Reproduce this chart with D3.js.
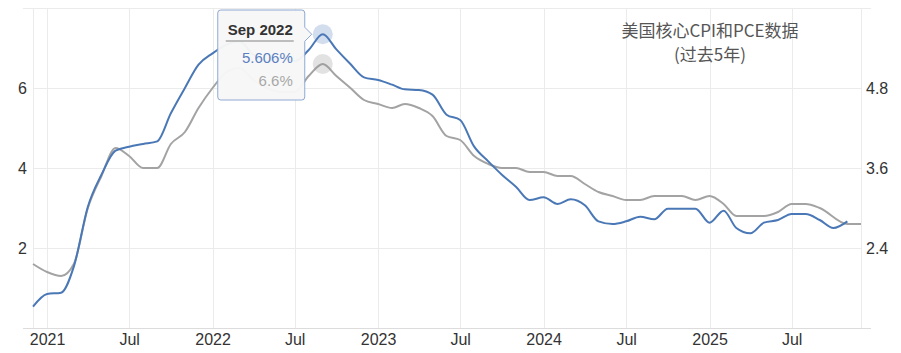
<!DOCTYPE html>
<html>
<head>
<meta charset="utf-8">
<script src="https://cdn.jsdelivr.net/npm/d3@7"></script>
<style>
  body { margin: 0; background: #fff; }
  text { font-family: "Liberation Sans", Arial, sans-serif; }
</style>
</head>
<body>
<div id="chart"></div>
<script>
// months, Dec 2020 .. Dec 2025
const months = [
    "2020-12",
    "2021-01", "2021-02", "2021-03", "2021-04", "2021-05", "2021-06", "2021-07", "2021-08", "2021-09", "2021-10", "2021-11", "2021-12",
    "2022-01", "2022-02", "2022-03", "2022-04", "2022-05", "2022-06", "2022-07", "2022-08", "2022-09", "2022-10", "2022-11", "2022-12",
    "2023-01", "2023-02", "2023-03", "2023-04", "2023-05", "2023-06", "2023-07", "2023-08", "2023-09", "2023-10", "2023-11", "2023-12",
    "2024-01", "2024-02", "2024-03", "2024-04", "2024-05", "2024-06", "2024-07", "2024-08", "2024-09", "2024-10", "2024-11", "2024-12",
    "2025-01", "2025-02", "2025-03", "2025-04", "2025-05", "2025-06", "2025-07", "2025-08", "2025-09", "2025-10", "2025-11", "2025-12"
];

// core CPI (grey, left axis)
const coreCPI = [
    1.6,
    1.4, 1.3, 1.6, 3.0, 3.8, 4.5, 4.3, 4.0, 4.0, 4.6, 4.9, 5.5,
    6.0, 6.4, 6.5, 6.2, 6.0, 5.9, 5.9, 6.3, 6.6, 6.3, 6.0, 5.7,
    5.6, 5.5, 5.6, 5.5, 5.3, 4.8, 4.7, 4.3, 4.1, 4.0, 4.0, 3.9,
    3.9, 3.8, 3.8, 3.6, 3.4, 3.3, 3.2, 3.2, 3.3, 3.3, 3.3, 3.2,
    3.3, 3.1, 2.8, 2.8, 2.8, 2.9, 3.1, 3.1, 3.0, null, 2.6, 2.6
];

// core PCE (blue, right axis)
const corePCE = [
    1.52,
    1.71, 1.73, 2.12, 3.02, 3.5, 3.86, 3.92, 3.96, 4.0, 4.42, 4.8, 5.15,
    5.32, 5.45, 5.5, 5.3, 5.2, 5.25, 5.2, 5.37, 5.606, 5.38, 5.16, 4.96,
    4.92, 4.85, 4.78, 4.77, 4.7, 4.4, 4.32, 3.92, 3.7, 3.5, 3.32, 3.12,
    3.16, 3.06, 3.13, 3.04, 2.8, 2.76, 2.8, 2.87, 2.83, 2.99, 2.99, 2.99,
    2.78, 2.96, 2.7, 2.62, 2.78, 2.82, 2.91, 2.91, 2.82, 2.7, 2.8, null
];

const leftTicks = [2, 4, 6];
const rightTicks = [2.4, 3.6, 4.8];
const tickDates = ["2021-01", "2021-07", "2022-01", "2022-07", "2023-01", "2023-07", "2024-01", "2024-07", "2025-01", "2025-07"];
const tickLabels = ["2021", "Jul", "2022", "Jul", "2023", "Jul", "2024", "Jul", "2025", "Jul"];

const titleLines = ["美国核心CPI和PCE数据", "(过去5年)"];
const hoverIndex = 21; // Sep 2022

const parse = d3.timeParse("%Y-%m");

var margin = { top: 8, right: 40, bottom: 25, left: 33 },
    width = 901 - margin.left - margin.right,
    height = 353 - margin.top - margin.bottom;

var svg = d3.select("#chart")
    .append("svg")
    .attr("width", width + margin.left + margin.right)
    .attr("height", height + margin.top + margin.bottom)
    .append("g")
    .attr("transform", "translate(" + margin.left + "," + margin.top + ")");

var x = d3.scaleTime()
    .domain([parse(months[0]), parse(months[months.length - 1])])
    .range([0, width]);
var yL = d3.scaleLinear().domain([0, 8]).range([height, 0]);
var yR = d3.scaleLinear().domain([1.2, 6.0]).range([height, 0]);

// grid
var grid = svg.append("g").attr("stroke", "#ebebeb").attr("stroke-width", 1);
[0, 2, 4, 6, 8].forEach(function (v) {
    var ext = (v === 0 || v === 8) ? 10 : 0;
    grid.append("line")
        .attr("x1", -ext).attr("x2", width + ext)
        .attr("y1", Math.round(yL(v)) + 0.5).attr("y2", Math.round(yL(v)) + 0.5);
});
grid.selectAll(".vgrid")
    .data(tickDates.map(parse).concat([x.domain()[0], x.domain()[1]]))
    .enter()
    .append("line")
    .attr("x1", function (d) { return Math.round(x(d)) + 0.5; })
    .attr("x2", function (d) { return Math.round(x(d)) + 0.5; })
    .attr("y1", 0).attr("y2", height);
svg.append("line")
    .attr("x1", -10).attr("x2", width + 10)
    .attr("y1", height + 0.5).attr("y2", height + 0.5)
    .attr("stroke", "#dcdcdc");

// x axis labels
svg.append("g")
    .attr("transform", "translate(0," + height + ")")
    .call(d3.axisBottom(x)
        .tickValues(tickDates.map(parse))
        .tickFormat(function (d, i) { return tickLabels[i]; })
        .tickSize(0)
        .tickPadding(6))
    .call(function (g) { g.select(".domain").remove(); })
    .selectAll("text")
    .attr("dy", "0.71em")
    .style("font-family", "'Liberation Sans', Arial, sans-serif")
    .style("font-size", "16px")
    .attr("fill", "#333");

// left axis
svg.append("g")
    .attr("transform", "translate(-6,0)")
    .call(d3.axisLeft(yL).tickValues(leftTicks).tickSize(0).tickPadding(0))
    .call(function (g) { g.select(".domain").remove(); })
    .selectAll("text")
    .style("font-family", "'Liberation Sans', Arial, sans-serif")
    .style("font-size", "16px")
    .attr("fill", "#333");

// right axis
svg.append("g")
    .attr("transform", "translate(" + (width + 5) + ",0)")
    .call(d3.axisRight(yR).tickValues(rightTicks).tickSize(0).tickPadding(0).tickFormat(d3.format(".1f")))
    .call(function (g) { g.select(".domain").remove(); })
    .selectAll("text")
    .style("font-family", "'Liberation Sans', Arial, sans-serif")
    .style("font-size", "16px")
    .attr("fill", "#333");

// lines
var cpiData = months.map(function (m, i) { return { date: parse(m), v: coreCPI[i] }; })
    .filter(function (d) { return d.v !== null; });
var pceData = months.map(function (m, i) { return { date: parse(m), v: corePCE[i] }; })
    .filter(function (d) { return d.v !== null; });

svg.append("path")
    .datum(cpiData)
    .attr("fill", "none")
    .attr("stroke", "#a3a3a3")
    .attr("stroke-width", 2)
    .attr("d", d3.line()
        .curve(d3.curveMonotoneX)
        .x(function (d) { return x(d.date); })
        .y(function (d) { return yL(d.v); }));

svg.append("path")
    .datum(pceData)
    .attr("fill", "none")
    .attr("stroke", "#4a78b6")
    .attr("stroke-width", 2)
    .attr("d", d3.line()
        .curve(d3.curveMonotoneX)
        .x(function (d) { return x(d.date); })
        .y(function (d) { return yR(d.v); }));

// hover markers
var hx = x(parse(months[hoverIndex]));
var hyB = yR(corePCE[hoverIndex]);
var hyG = yL(coreCPI[hoverIndex]);
svg.append("circle").attr("cx", hx).attr("cy", hyB).attr("r", 10)
    .attr("fill", "rgba(74,120,182,0.25)");
svg.append("circle").attr("cx", hx).attr("cy", hyG).attr("r", 10)
    .attr("fill", "rgba(150,150,150,0.28)");

// tooltip
var bx1 = hx - margin.left - 18 + margin.left, bx0 = bx1 - 87;
var by0 = 2, by1 = 92;
var tip = svg.append("g");
tip.append("path")
    .attr("d", "M" + (bx0 + 3) + "," + by0 +
        " H" + (bx1 - 3) + " Q" + bx1 + "," + by0 + " " + bx1 + "," + (by0 + 3) +
        " V" + (hyB - 7) + " L" + (hx - 11) + "," + hyB + " L" + bx1 + "," + (hyB + 7) +
        " V" + (by1 - 3) + " Q" + bx1 + "," + by1 + " " + (bx1 - 3) + "," + by1 +
        " H" + (bx0 + 3) + " Q" + bx0 + "," + by1 + " " + bx0 + "," + (by1 - 3) +
        " V" + (by0 + 3) + " Q" + bx0 + "," + by0 + " " + (bx0 + 3) + "," + by0 + " Z")
    .attr("fill", "rgba(247,247,247,0.96)")
    .attr("stroke", "#8ea8d2")
    .attr("stroke-width", 1);
var tx = bx1 - 12;
tip.append("text").attr("x", tx).attr("y", 27).attr("text-anchor", "end")
    .style("font-size", "15px").style("font-weight", "bold").attr("fill", "#333")
    .text(d3.timeFormat("%b %Y")(parse(months[hoverIndex])));
tip.append("line").attr("x1", tx - 67).attr("x2", tx + 1).attr("y1", 33).attr("y2", 33)
    .attr("stroke", "#aaa").attr("stroke-width", 1.5);
tip.append("text").attr("x", tx).attr("y", 55).attr("text-anchor", "end")
    .style("font-size", "15px").attr("fill", "#5b80bf")
    .text(corePCE[hoverIndex] + "%");
tip.append("text").attr("x", tx).attr("y", 78).attr("text-anchor", "end")
    .style("font-size", "15px").attr("fill", "#a8a8a8")
    .text(coreCPI[hoverIndex] + "%");

// title
svg.append("g").selectAll("text")
    .data(titleLines)
    .enter()
    .append("text")
    .attr("x", 677)
    .attr("y", function (d, i) { return 29 + i * 24; })
    .attr("text-anchor", "middle")
    .style("font-family", "'Noto Sans CJK SC', sans-serif")
    .style("font-size", "17px")
    .attr("fill", "#555")
    .text(function (d) { return d; });
</script>
</body>
</html>
